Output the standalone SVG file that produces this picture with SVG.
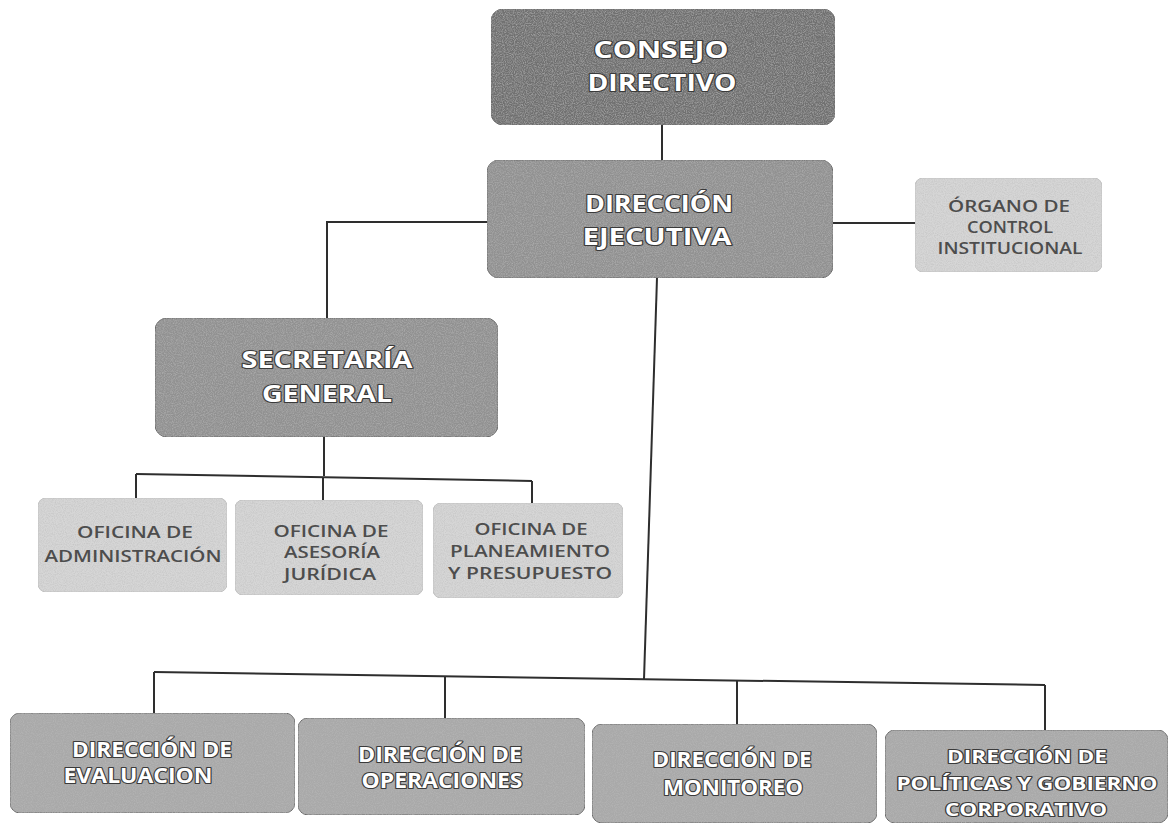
<svg xmlns="http://www.w3.org/2000/svg" width="1170" height="827" viewBox="0 0 1170 827">
<defs>
<filter id="grain" x="0" y="0" width="100%" height="100%">
<feTurbulence type="fractalNoise" baseFrequency="0.9" numOctaves="2" seed="3" result="n"/>
<feColorMatrix in="n" type="matrix" values="0 0 0 0 0.5  0 0 0 0 0.5  0 0 0 0 0.5  0 0 0 -1.2 0.75" result="g"/>
<feComposite in="g" in2="SourceGraphic" operator="in" result="gc"/>
<feMerge><feMergeNode in="SourceGraphic"/><feMergeNode in="gc"/></feMerge>
</filter>
</defs>
<style>
.box{stroke:#6a6a6a;stroke-width:1;filter:url(#grain)}
.dark{fill:#707070}
.mid{fill:#919191}
.low{fill:#a9a9a9}
.light{fill:#d6d6d6;stroke:#c4c4c4}
.wt{font-family:"Open Sans","Liberation Sans",sans-serif;font-weight:700;fill:#ffffff;stroke:#3a3a3a;stroke-width:2.2;paint-order:stroke;text-anchor:middle;stroke-linejoin:round}
.dt{font-family:"Open Sans","Liberation Sans",sans-serif;font-weight:600;fill:#4d4d4d;text-anchor:middle}
.ln{fill:none;stroke:#2e2e2e;stroke-width:2}
</style>
<rect width="1170" height="827" fill="#ffffff"/>
<g id="connectors">
<path class="ln" d="M662,125 V160"/>
<path class="ln" d="M833,223 H915"/>
<path class="ln" d="M487,222 H327 V318"/>
<path class="ln" d="M324,437 V476"/>
<path class="ln" d="M136,474 L532,481"/>
<path class="ln" d="M136,474 V498"/>
<path class="ln" d="M323,477 V500"/>
<path class="ln" d="M532,481 V503"/>
<path class="ln" d="M657,278 L644,679"/>
<path class="ln" d="M154,672 L1045,685"/>
<path class="ln" d="M154,672 V713"/>
<path class="ln" d="M445,676 V718"/>
<path class="ln" d="M737,680 V724"/>
<path class="ln" d="M1045,685 V730"/>
</g>
<g id="consejo-directivo">
<rect class="box dark" x="491" y="9" width="344" height="116" rx="12"/>
<text class="wt" x="661" y="58" font-size="24" textLength="135" lengthAdjust="spacingAndGlyphs">CONSEJO</text>
<text class="wt" x="662" y="91" font-size="24" textLength="149" lengthAdjust="spacingAndGlyphs">DIRECTIVO</text>
</g>
<g id="direccion-ejecutiva">
<rect class="box mid" x="487" y="160" width="346" height="118" rx="12"/>
<text class="wt" x="659" y="212" font-size="24" textLength="148" lengthAdjust="spacingAndGlyphs">DIRECCIÓN</text>
<text class="wt" x="657" y="245" font-size="24" textLength="149" lengthAdjust="spacingAndGlyphs">EJECUTIVA</text>
</g>
<g id="organo-control">
<rect class="box light" x="915" y="178" width="187" height="94" rx="8"/>
<text class="dt" x="1009" y="212" font-size="17" textLength="122" lengthAdjust="spacingAndGlyphs">ÓRGANO DE</text>
<text class="dt" x="1010" y="233" font-size="17" textLength="86" lengthAdjust="spacingAndGlyphs">CONTROL</text>
<text class="dt" x="1010" y="254" font-size="17" textLength="145" lengthAdjust="spacingAndGlyphs">INSTITUCIONAL</text>
</g>
<g id="secretaria-general">
<rect class="box mid" x="155" y="318" width="343" height="119" rx="12"/>
<text class="wt" x="327" y="368" font-size="24" textLength="171" lengthAdjust="spacingAndGlyphs">SECRETARÍA</text>
<text class="wt" x="327" y="402" font-size="24" textLength="130" lengthAdjust="spacingAndGlyphs">GENERAL</text>
</g>
<g id="oficina-administracion">
<rect class="box light" x="38" y="498" width="189" height="94" rx="8"/>
<text class="dt" x="135" y="538" font-size="17" textLength="116" lengthAdjust="spacingAndGlyphs">OFICINA DE</text>
<text class="dt" x="133" y="562" font-size="17" textLength="177" lengthAdjust="spacingAndGlyphs">ADMINISTRACIÓN</text>
</g>
<g id="oficina-asesoria">
<rect class="box light" x="235" y="500" width="188" height="95" rx="8"/>
<text class="dt" x="331" y="537" font-size="17" textLength="115" lengthAdjust="spacingAndGlyphs">OFICINA DE</text>
<text class="dt" x="332" y="558" font-size="17" textLength="96" lengthAdjust="spacingAndGlyphs">ASESORÍA</text>
<text class="dt" x="330" y="580" font-size="17" textLength="92" lengthAdjust="spacingAndGlyphs">JURÍDICA</text>
</g>
<g id="oficina-planeamiento">
<rect class="box light" x="433" y="503" width="190" height="95" rx="8"/>
<text class="dt" x="531" y="535" font-size="17" textLength="113" lengthAdjust="spacingAndGlyphs">OFICINA DE</text>
<text class="dt" x="530" y="557" font-size="17" textLength="160" lengthAdjust="spacingAndGlyphs">PLANEAMIENTO</text>
<text class="dt" x="530" y="579" font-size="17" textLength="164" lengthAdjust="spacingAndGlyphs">Y PRESUPUESTO</text>
</g>
<g id="direccion-evaluacion">
<rect class="box low" x="10" y="713" width="285" height="100" rx="10"/>
<text class="wt" x="152" y="757" font-size="21" textLength="160" lengthAdjust="spacingAndGlyphs">DIRECCIÓN DE</text>
<text class="wt" x="138" y="783" font-size="21" textLength="149" lengthAdjust="spacingAndGlyphs">EVALUACION</text>
</g>
<g id="direccion-operaciones">
<rect class="box low" x="298" y="718" width="287" height="97" rx="10"/>
<text class="wt" x="440" y="762" font-size="21" textLength="164" lengthAdjust="spacingAndGlyphs">DIRECCIÓN DE</text>
<text class="wt" x="442" y="788" font-size="21" textLength="161" lengthAdjust="spacingAndGlyphs">OPERACIONES</text>
</g>
<g id="direccion-monitoreo">
<rect class="box low" x="592" y="724" width="285" height="99" rx="10"/>
<text class="wt" x="732" y="767" font-size="21" textLength="159" lengthAdjust="spacingAndGlyphs">DIRECCIÓN DE</text>
<text class="wt" x="733" y="795" font-size="21" textLength="140" lengthAdjust="spacingAndGlyphs">MONITOREO</text>
</g>
<g id="direccion-politicas">
<rect class="box low" x="885" y="730" width="283" height="93" rx="10"/>
<text class="wt" x="1027" y="763" font-size="18" textLength="160" lengthAdjust="spacingAndGlyphs">DIRECCIÓN DE</text>
<text class="wt" x="1027" y="790" font-size="18" textLength="261" lengthAdjust="spacingAndGlyphs">POLÍTICAS Y GOBIERNO</text>
<text class="wt" x="1026" y="816" font-size="18" textLength="162" lengthAdjust="spacingAndGlyphs">CORPORATIVO</text>
</g>
</svg>
